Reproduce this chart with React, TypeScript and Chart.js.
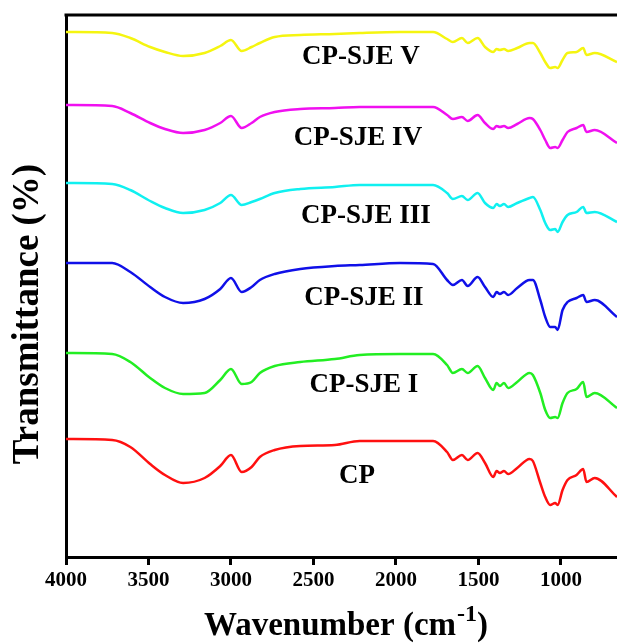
import React, { useEffect, useRef } from "react";
import { Chart, registerables } from "chart.js";

Chart.register(...registerables);

const FONT = "'Liberation Serif', 'Times New Roman', serif";

const wavenumbers = [
  4000, 3720, 3610, 3490, 3400, 3290, 3160, 3065, 3000, 2935, 2875, 2825, 2735,
  2580, 2370, 2220, 1975, 1775, 1690, 1655, 1600, 1565, 1505, 1460, 1410, 1390,
  1370, 1345, 1320, 1265, 1190, 1170, 1125, 1095, 1065, 1035, 1020, 990, 960,
  905, 865, 845, 795, 660,
];

const cp = [
  23.6, 23.4, 22.0, 18.6, 16.4, 14.8, 15.8, 18.2, 20.4, 17.0, 18.0, 20.0, 21.4,
  22.2, 22.4, 23.2, 23.2, 23.2, 21.0, 19.4, 20.4, 19.4, 20.8, 18.8, 16.0, 17.2,
  16.8, 17.2, 16.6, 17.8, 19.6, 19.2, 14.8, 12.0, 10.4, 10.8, 10.4, 13.4, 15.4,
  16.4, 17.6, 15.0, 15.8, 12.0,
];

const cpSjeI = [
  40.8, 40.6, 39.0, 35.8, 33.8, 32.6, 32.8, 35.4, 37.6, 34.6, 35.0, 36.8, 38.2,
  39.0, 39.6, 40.4, 40.6, 40.6, 38.4, 36.8, 37.6, 36.8, 38.2, 35.8, 33.4, 34.8,
  34.2, 34.8, 33.8, 35.0, 36.8, 36.4, 32.8, 29.4, 27.8, 28.0, 27.8, 30.8, 32.8,
  33.6, 35.0, 32.0, 32.8, 29.8,
];

const cpSjeII = [
  58.8, 58.8, 57.0, 54.0, 52.0, 50.8, 51.6, 53.6, 55.8, 53.0, 54.0, 55.4, 56.6,
  57.6, 58.2, 58.4, 58.8, 58.6, 55.4, 54.4, 55.4, 54.2, 56.0, 54.0, 52.0, 53.0,
  52.6, 53.0, 52.4, 53.8, 55.4, 55.4, 51.4, 48.0, 46.0, 46.0, 45.4, 49.4, 51.0,
  51.8, 52.4, 51.0, 51.4, 48.0,
];

const cpSjeIII = [
  74.8, 74.6, 73.4, 71.2, 69.8, 68.8, 69.4, 70.8, 72.4, 70.4, 71.0, 71.6, 72.8,
  73.6, 74.0, 74.4, 74.4, 74.4, 72.8, 71.6, 72.2, 71.4, 72.8, 70.8, 69.8, 70.6,
  70.2, 70.6, 70.0, 70.8, 71.8, 72.0, 69.4, 66.8, 65.4, 65.6, 65.0, 67.0, 68.4,
  69.0, 70.0, 68.8, 69.0, 67.0,
];

const cpSjeIV = [
  90.4, 90.2, 88.8, 86.8, 85.6, 84.8, 85.4, 86.8, 88.2, 85.8, 86.8, 88.0, 89.0,
  89.6, 89.8, 90.0, 90.0, 90.0, 88.4, 87.6, 88.0, 87.2, 88.4, 86.8, 85.6, 86.2,
  86.0, 86.2, 85.8, 86.6, 87.8, 87.6, 85.4, 83.4, 81.8, 82.0, 81.8, 83.4, 85.0,
  85.8, 86.4, 85.0, 85.4, 82.8,
];

const cpSjeV = [
  105.0, 104.8, 103.8, 102.0, 101.0, 100.2, 100.8, 102.2, 103.4, 101.2, 102.0,
  102.8, 104.0, 104.4, 104.6, 104.8, 105.0, 105.0, 103.6, 103.0, 103.8, 102.8,
  103.8, 102.0, 101.0, 101.6, 101.4, 101.6, 101.2, 101.8, 102.8, 102.8, 100.8,
  99.0, 97.8, 98.0, 97.8, 99.4, 100.8, 101.0, 101.8, 100.4, 100.8, 99.0,
];

const seriesNames = ["CP", "CP-SJE I", "CP-SJE II", "CP-SJE III", "CP-SJE IV", "CP-SJE V"];
const seriesValues = [cp, cpSjeI, cpSjeII, cpSjeIII, cpSjeIV, cpSjeV];
const seriesColors = ["#ff1010", "#22ee22", "#1010e8", "#10f0f0", "#f010f0", "#f5f510"];

const labelX = [2236, 2194, 2194, 2182, 2230, 2212];
const labelY = [16.2, 34.4, 51.8, 68.2, 83.8, 100.0];

const xTickValues = [4000, 3500, 3000, 2500, 2000, 1500, 1000];
const xMin = 660;
const xMax = 4000;
const yMin = 0;
const yMax = 108.4;

const xTitle = "Wavenumber (cm";
const xTitleSup = "-1";
const xTitleEnd = ")";
const yTitle = "Transmittance (%)";

const textPlugin = {
  id: "textPlugin",
  afterDraw(chart: any) {
    const { ctx, chartArea, scales } = chart;
    const xs = scales.x;
    const ys = scales.y;
    ctx.save();
    // top border
    ctx.strokeStyle = "#000";
    ctx.lineWidth = 3;
    ctx.beginPath();
    ctx.moveTo(chartArea.left - 1.5, chartArea.top);
    ctx.lineTo(chart.width, chartArea.top);
    ctx.stroke();

    // series labels
    ctx.fillStyle = "#000";
    ctx.font = `bold 27px ${FONT}`;
    ctx.textAlign = "center";
    ctx.textBaseline = "middle";
    seriesNames.forEach((name, i) => {
      ctx.fillText(name, xs.getPixelForValue(labelX[i]), ys.getPixelForValue(labelY[i]));
    });

    // x title
    const mainFont = `bold 33px ${FONT}`;
    const supFont = `bold 24px ${FONT}`;
    ctx.font = mainFont;
    const w1 = ctx.measureText(xTitle).width;
    const w3 = ctx.measureText(xTitleEnd).width;
    ctx.font = supFont;
    const w2 = ctx.measureText(xTitleSup).width;
    const total = w1 + w2 + w3;
    const cx = (chartArea.left + chartArea.right) / 2 + 4;
    const baseY = chartArea.bottom + 78;
    const x0 = cx - total / 2;
    ctx.textAlign = "left";
    ctx.textBaseline = "alphabetic";
    ctx.font = mainFont;
    ctx.fillText(xTitle, x0, baseY);
    ctx.font = supFont;
    ctx.fillText(xTitleSup, x0 + w1 + 1, baseY - 14);
    ctx.font = mainFont;
    ctx.fillText(xTitleEnd, x0 + w1 + w2 + 1, baseY);

    // y title
    ctx.save();
    ctx.translate(28, (chartArea.top + chartArea.bottom) / 2 + 28);
    ctx.rotate(-Math.PI / 2);
    ctx.font = `bold 37px ${FONT}`;
    ctx.textAlign = "center";
    ctx.textBaseline = "middle";
    ctx.fillText(yTitle, 0, 0);
    ctx.restore();

    ctx.restore();
  },
};

export default function App() {
  const canvasRef = useRef<HTMLCanvasElement | null>(null);

  useEffect(() => {
    if (!canvasRef.current) return;
    const chart = new Chart(canvasRef.current, {
      type: "line",
      data: {
        datasets: seriesNames.map((name, i) => ({
          label: name,
          data: wavenumbers.map((w, j) => ({ x: w, y: seriesValues[i][j] })),
          borderColor: seriesColors[i],
          backgroundColor: seriesColors[i],
          borderWidth: 2.5,
          pointRadius: 0,
          fill: false,
          cubicInterpolationMode: "monotone" as const,
        })),
      },
      options: {
        animation: false,
        responsive: false,
        devicePixelRatio: 1,
        layout: { padding: { top: 15, right: 0, left: 0, bottom: 0 } },
        plugins: {
          legend: { display: false },
          tooltip: { enabled: false },
          title: { display: false },
        },
        scales: {
          x: {
            type: "linear",
            reverse: true,
            min: xMin,
            max: xMax,
            afterBuildTicks: (s: any) => {
              s.ticks = xTickValues.map((v) => ({ value: v }));
            },
            afterFit: (s: any) => {
              s.height = 86;
            },
            ticks: {
              color: "#000",
              font: { family: FONT, size: 21, weight: "bold" },
              padding: 3,
              maxRotation: 0,
              autoSkip: false,
              callback: (v: any) => String(v),
            },
            grid: {
              display: true,
              drawOnChartArea: false,
              drawTicks: true,
              tickLength: 8,
              color: "#000",
              lineWidth: 3,
            },
            border: { display: true, color: "#000", width: 3 },
          },
          y: {
            min: yMin,
            max: yMax,
            afterFit: (s: any) => {
              s.width = 66;
            },
            ticks: { display: false },
            grid: { display: false },
            border: { display: true, color: "#000", width: 3 },
          },
        },
      },
      plugins: [textPlugin],
    });
    return () => chart.destroy();
  }, []);

  return (
    <div style={{ position: "absolute", left: 0, top: 0, width: 617, height: 643, background: "#fff" }}>
      <canvas ref={canvasRef} width={617} height={643} style={{ width: 617, height: 643, display: "block" }} />
    </div>
  );
}
